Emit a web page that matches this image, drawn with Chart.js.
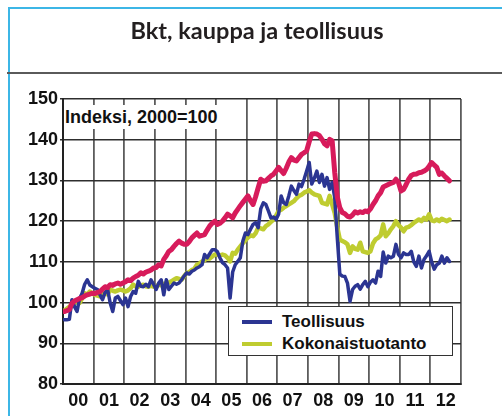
<!DOCTYPE html>
<html>
<head>
<meta charset="utf-8">
<script src="https://cdn.jsdelivr.net/npm/chart.js@4"></script>
<style>
  html, body { margin: 0; padding: 0; background: #fff; }
  #wrap { position: relative; width: 502px; height: 416px; overflow: hidden; background: #fff; }
  #frameL { position: absolute; left: 8px; top: 7px; width: 2px; height: 420px; background: #3cb6e6; }
  #frameT { position: absolute; left: 8px; top: 7px; width: 500px; height: 2px; background: #3cb6e6; }
  #sep { position: absolute; left: 7px; top: 72px; width: 500px; height: 2px; background: #5a5a5a; }
  #title { position: absolute; left: 0; width: 514px; top: 16px; text-align: center;
           font-family: Lato, "Open Sans", sans-serif; font-weight: 700; font-size: 23.5px; color: #231f20; }
  #note { position: absolute; left: 64px; top: 105px; width: 161px; height: 24px; background: #fff;
          font-family: "Liberation Sans", Arial, sans-serif; font-weight: 700; font-size: 18px; line-height: 24px;
          color: #111; padding-left: 1px; white-space: nowrap; }
  #legend { position: absolute; left: 228px; top: 306px; width: 225px; height: 50px; background: #fff;
            border: 1.5px solid #333; box-sizing: border-box;
            font-family: "Liberation Sans", Arial, sans-serif; font-weight: 700; font-size: 17px; color: #111; }
  .row { position: absolute; left: 0; height: 20px; line-height: 20px; white-space: nowrap; }
  .sw { position: absolute; left: 13px; top: 8px; width: 30px; height: 4px; }
  .lbl { position: absolute; left: 53px; top: 0; }
  canvas { position: absolute; left: 0; top: 0; }
</style>
</head>
<body>
<div id="wrap">
  <canvas id="c" width="502" height="416"></canvas>
  <div id="frameL"></div>
  <div id="frameT"></div>
  <div id="sep"></div>
  <div id="title">Bkt, kauppa ja teollisuus</div>
  <div id="note">Indeksi, 2000=100</div>
  <div id="legend">
    <div class="row" style="top:5px"><div class="sw" style="background:#2b3592"></div><span class="lbl">Teollisuus</span></div>
    <div class="row" style="top:27px"><div class="sw" style="background:#bfcc30"></div><span class="lbl">Kokonaistuotanto</span></div>
  </div>
</div>
<script>
// Year tick labels (2000-2012)
const yearLabels = ['00','01','02','03','04','05','06','07','08','09','10','11','12'];

// Monthly series, Jan 2000 - Aug 2012 (index 2000 = 100)
const kauppa = [
  97.8, 98.0, 98.3, 99.8, 100.4, 100.7, 101.0, 101.2, 101.6, 101.9, 102.1, 102.3,
  102.2, 102.5, 102.7, 103.3, 103.9, 103.7, 104.4, 104.2, 104.6, 104.8, 104.5, 104.8,
  105.1, 105.6, 105.4, 106.0, 106.4, 106.7, 107.3, 107.0, 107.5, 107.7, 108.0, 108.5,
  108.6, 109.3, 109.0, 110.6, 111.5, 112.6, 113.0, 113.8, 114.5, 115.1, 114.6, 114.3,
  114.3, 115.0, 115.9, 116.5, 117.1, 116.3, 116.5, 116.7, 117.8, 118.8, 119.5, 120.0,
  119.2, 119.5, 120.0, 120.8, 121.7, 121.3, 120.8, 122.0, 122.9, 123.8, 124.6, 125.4,
  126.2, 125.0, 124.1, 126.0, 128.2, 130.3, 129.8, 129.9, 130.5, 131.1, 131.5, 132.3,
  133.2, 132.4, 131.7, 133.0, 134.5, 135.6, 135.0, 134.8, 135.6, 136.4, 136.8, 137.3,
  139.5, 141.4, 141.5, 141.4, 141.0, 140.1, 139.0, 138.5, 140.1, 139.7, 132.0, 126.0,
  123.3, 122.1, 121.8, 121.2, 121.0, 121.5, 122.3, 122.0, 122.3, 122.1, 122.5, 122.3,
  123.0, 124.1, 125.0, 126.2, 127.0, 128.4, 128.7, 129.0, 129.3, 129.5, 130.3, 129.5,
  127.4, 127.8, 129.0, 130.3, 131.2, 131.5, 131.6, 131.9, 132.0, 132.3, 132.7, 133.5,
  134.4, 133.8, 133.2, 131.5, 131.8, 131.1, 130.5, 129.9
];
const teollisuus = [
  95.8, 95.8, 95.9, 100.7, 99.0, 97.8, 101.0, 102.3, 104.5, 105.6, 104.3, 103.9,
  103.5, 103.2, 101.9, 100.7, 102.5, 103.2, 99.9, 97.8, 101.1, 101.5, 100.5, 99.5,
  101.1, 99.0, 101.5, 102.7, 102.3, 105.2, 104.0, 103.9, 104.5, 103.9, 105.6, 104.5,
  103.2, 104.8, 105.6, 101.9, 105.6, 103.2, 104.0, 104.8, 104.5, 104.8, 105.6, 106.5,
  107.3, 107.0, 107.7, 108.0, 108.5, 108.8, 109.3, 111.8, 111.0, 112.0, 113.0, 113.0,
  112.5, 111.0, 109.8, 109.3, 108.5, 101.1, 107.5, 109.3, 110.1, 111.0, 115.1, 117.1,
  116.7, 118.0, 119.2, 119.6, 118.4, 123.0, 124.5, 124.1, 122.5, 120.8, 121.0, 120.4,
  121.7, 126.2, 124.5, 124.1, 126.2, 128.6, 127.5, 126.6, 129.1, 128.5, 130.3, 132.3,
  134.4, 129.1, 130.5, 132.3, 129.5, 131.5, 128.6, 130.7, 127.8, 129.5, 125.8, 116.0,
  107.0, 106.5, 106.4, 104.8, 100.3, 103.2, 104.0, 104.4, 103.3, 104.4, 105.2, 103.9,
  105.0, 105.6, 104.8, 107.7, 106.4, 112.4, 109.7, 111.4, 111.0, 111.4, 114.3, 111.8,
  111.0, 112.2, 111.8, 111.8, 112.6, 110.0, 108.9, 111.4, 108.5, 110.6, 111.5, 112.6,
  110.0, 108.2, 109.3, 109.7, 111.4, 109.7, 111.0, 110.1
];
const kokonaistuotanto = [
  98.0, 98.5, 99.0, 99.5, 99.8, 100.2, 99.9, 101.0, 102.3, 102.0, 102.7, 102.2,
  101.9, 101.7, 101.5, 102.0, 102.3, 102.0, 103.2, 102.9, 102.7, 103.0, 103.2, 103.0,
  102.7, 103.0, 103.5, 104.4, 104.0, 103.9, 104.2, 104.4, 104.0, 103.9, 104.1, 103.9,
  104.0, 104.4, 104.2, 104.6, 104.8, 104.9, 105.2, 105.6, 106.0, 105.8, 105.6, 106.5,
  107.3, 107.5, 108.0, 108.3, 109.3, 109.6, 110.1, 110.4, 111.0, 110.8, 111.3, 111.8,
  111.8, 111.6, 111.8, 111.6, 111.0, 110.1, 112.2, 112.0, 113.0, 113.8, 114.6, 115.3,
  116.0, 116.5, 116.3, 117.0, 118.4, 118.2, 118.0, 118.8, 119.2, 119.8, 120.4, 121.3,
  122.5, 122.8, 123.3, 123.7, 124.1, 124.5, 124.9, 125.6, 126.2, 126.5, 127.0, 127.3,
  127.6, 127.0, 126.6, 126.4, 126.2, 124.5, 124.3, 124.1, 126.2, 124.1, 122.0, 118.5,
  115.5, 115.1, 114.8, 114.3, 112.2, 113.8, 113.2, 113.0, 114.7, 112.6, 112.4, 112.2,
  112.6, 114.5, 115.5, 115.9, 116.5, 119.2, 116.3, 117.0, 118.0, 118.8, 120.0, 119.0,
  118.4, 117.5, 118.4, 118.6, 119.0, 119.6, 120.0, 120.4, 120.0, 120.8, 120.4, 121.7,
  120.2, 120.0, 120.4, 120.0, 120.6, 120.3, 120.0, 120.4
];

const toPoints = arr => arr.map((v, i) => ({ x: (i + 0.5) / 12, y: v }));

const FONT = "'Liberation Sans', Arial, sans-serif";

new Chart(document.getElementById('c'), {
  type: 'line',
  data: {
    datasets: [
      { label: 'Kauppa', data: toPoints(kauppa), borderColor: '#d71b5b', borderWidth: 5 },
      { label: 'Teollisuus', data: toPoints(teollisuus), borderColor: '#2b3592', borderWidth: 3.5 },
      { label: 'Kokonaistuotanto', data: toPoints(kokonaistuotanto), borderColor: '#bfcc30', borderWidth: 4.5 }
    ]
  },
  options: {
    responsive: false,
    animation: false,
    devicePixelRatio: 1,
    layout: { padding: { left: 13, right: 41, top: 99, bottom: 7 } },
    elements: {
      point: { radius: 0 },
      line: { tension: 0, borderJoinStyle: 'round', borderCapStyle: 'round', fill: false }
    },
    plugins: { legend: { display: false }, tooltip: { enabled: false }, title: { display: false } },
    scales: {
      x: {
        type: 'linear', min: 0, max: 13,
        afterFit: s => { s.height = 25; },
        afterBuildTicks: s => { s.ticks = yearLabels.map((_, i) => ({ value: i })).concat([{ value: 13 }]); },
        ticks: {
          autoSkip: false, maxRotation: 0, labelOffset: 15.3, padding: 6,
          color: '#111', font: { family: FONT, weight: 'bold', size: 18 },
          callback: v => (v < yearLabels.length ? yearLabels[v] : '')
        },
        grid: { color: '#5c5c5c', lineWidth: 1.8, drawTicks: false },
        border: { color: '#222', width: 2 }
      },
      y: {
        min: 80, max: 150,
        afterFit: s => { s.width = 50; },
        ticks: { stepSize: 10, padding: 2, color: '#111', font: { family: FONT, weight: 'bold', size: 18 } },
        grid: { color: '#2e2e2e', lineWidth: 1.4, tickLength: 3 },
        border: { color: '#222', width: 2 }
      }
    }
  }
});
</script>
</body>
</html>
